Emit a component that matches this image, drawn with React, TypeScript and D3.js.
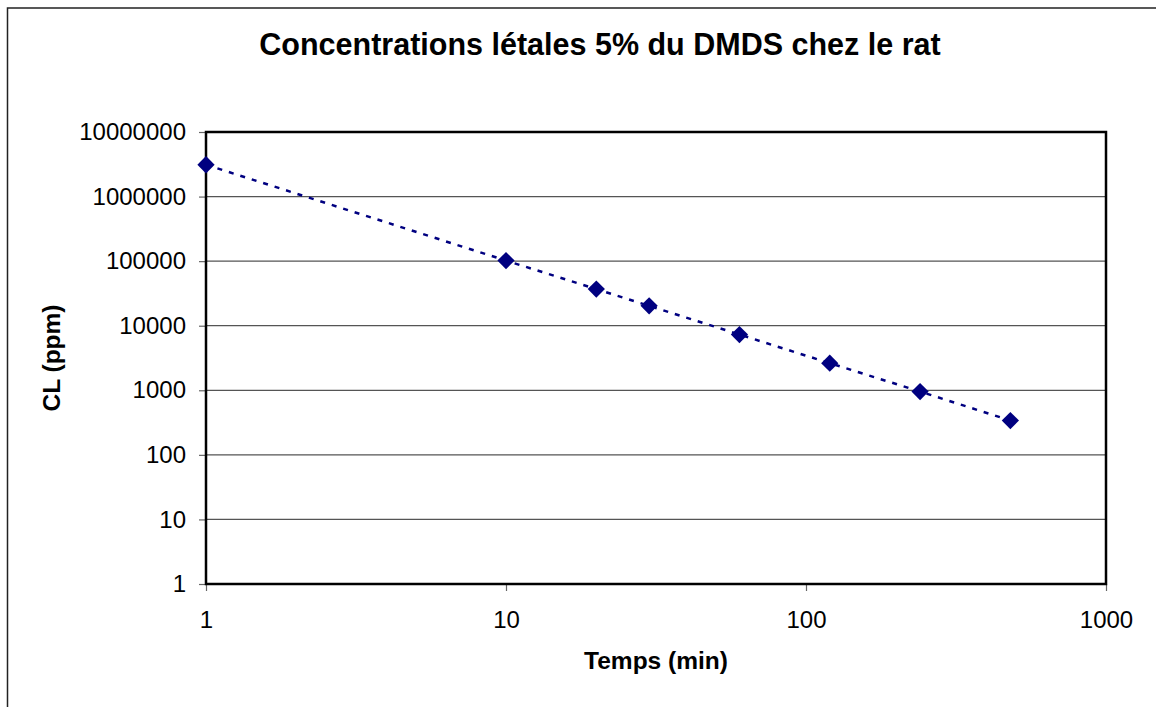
import React, { useEffect, useRef } from 'react';
import * as d3 from 'd3';

// exposure time (min) and the matching 5% lethal concentration (ppm)
const tempsMin = [1, 10, 20, 30, 60, 120, 240, 480];
const cl5Ppm = [3110000, 102000, 36900, 20300, 7300, 2630, 955, 340];

const xTickValues = [1, 10, 100, 1000];
const yTickValues = [1, 10, 100, 1000, 10000, 100000, 1000000, 10000000];

const chartTitle = 'Concentrations létales 5% du DMDS chez le rat';
const xTitle = 'Temps (min)';
const yTitle = 'CL (ppm)';

const W = 1156;
const H = 707;
const FONT = '"Liberation Sans", Arial, sans-serif';

function LethalChart() {
  const svgRef = useRef<SVGSVGElement>(null);

  useEffect(() => {
    const svg = d3.select(svgRef.current);
    svg.selectAll('*').remove();

    // plot area box
    const left = 206, right = 1106, top = 132, bottom = 584;

    const x = d3.scaleLog().domain([1, 1000]).range([left, right]);
    const y = d3.scaleLog().domain([1, 1e7]).range([bottom, top]);

    svg.append('rect')
      .attr('width', W).attr('height', H)
      .attr('fill', '#fff');

    // outer chart frame (runs past the picture on right / bottom)
    svg.append('rect')
      .attr('x', 7.5).attr('y', 8)
      .attr('width', W + 20).attr('height', H + 20)
      .attr('fill', 'none')
      .attr('stroke', '#222')
      .attr('stroke-width', 1.5);

    // title
    svg.append('text')
      .attr('x', 600).attr('y', 55)
      .attr('text-anchor', 'middle')
      .style('font-family', FONT)
      .style('font-size', '30.5px')
      .style('font-weight', 'bold')
      .text(chartTitle);

    // horizontal gridlines
    svg.append('g')
      .selectAll('line')
      .data(yTickValues)
      .join('line')
      .attr('x1', left).attr('x2', right)
      .attr('y1', d => y(d)).attr('y2', d => y(d))
      .attr('stroke', '#555')
      .attr('stroke-width', 1.2);

    // axes
    const yAxis = svg.append('g')
      .attr('transform', `translate(${left},0)`)
      .call(d3.axisLeft(y)
        .tickValues(yTickValues)
        .tickFormat(d3.format('d'))
        .tickSize(7)
        .tickPadding(13));

    const xAxis = svg.append('g')
      .attr('transform', `translate(0,${bottom})`)
      .call(d3.axisBottom(x)
        .tickValues(xTickValues)
        .tickFormat(d3.format('d'))
        .tickSize(7)
        .tickPadding(20));

    [yAxis, xAxis].forEach(ax => {
      ax.select('.domain').remove();
      ax.selectAll('.tick line').attr('stroke', '#666').attr('stroke-width', 1.2);
      ax.selectAll('.tick text')
        .attr('fill', '#000')
        .style('font-family', FONT)
        .style('font-size', '24px');
    });

    // plot border
    svg.append('rect')
      .attr('x', left).attr('y', top)
      .attr('width', right - left).attr('height', bottom - top)
      .attr('fill', 'none')
      .attr('stroke', '#000')
      .attr('stroke-width', 2.5);

    // axis titles
    svg.append('text')
      .attr('x', (left + right) / 2).attr('y', 669)
      .attr('text-anchor', 'middle')
      .style('font-family', FONT)
      .style('font-size', '24.5px')
      .style('font-weight', 'bold')
      .text(xTitle);

    svg.append('text')
      .attr('transform', `translate(60,${(top + bottom) / 2}) rotate(-90)`)
      .attr('text-anchor', 'middle')
      .style('font-family', FONT)
      .style('font-size', '24.5px')
      .style('font-weight', 'bold')
      .text(yTitle);

    // series: dotted line + diamond markers
    const points = tempsMin.map((t, i) => [t, cl5Ppm[i]] as [number, number]);

    const line = d3.line<[number, number]>()
      .x(d => x(d[0]))
      .y(d => y(d[1]));

    svg.append('path')
      .datum(points)
      .attr('d', line)
      .attr('fill', 'none')
      .attr('stroke', '#000080')
      .attr('stroke-width', 2.5)
      .attr('stroke-dasharray', '5 7');

    svg.append('g')
      .selectAll('path')
      .data(points)
      .join('path')
      .attr('transform', d => `translate(${x(d[0])},${y(d[1])})`)
      .attr('d', d3.symbol(d3.symbolDiamond2, 190)())
      .attr('fill', '#000080');
  }, []);

  return (
    <svg
      ref={svgRef}
      width={W}
      height={H}
      style={{ position: 'absolute', left: 0, top: 0, display: 'block' }}
    />
  );
}

export default function App() {
  return <LethalChart />;
}
